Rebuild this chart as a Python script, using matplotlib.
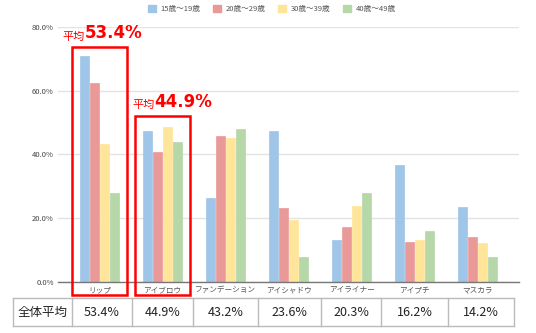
import matplotlib
matplotlib.use("Agg")
import matplotlib.pyplot as plt
from matplotlib.patches import Rectangle, Patch
from matplotlib.lines import Line2D
import numpy as np

plt.rcParams['font.family'] = ['Noto Sans CJK JP', 'DejaVu Sans']

categories = ["リップ", "アイブロウ", "ファンデーション", "アイシャドウ", "アイライナー", "アイプチ", "マスカラ"]
series_names = ["15歳～19歳", "20歳～29歳", "30歳～39歳", "40歳～49歳"]
age15_19 = [70.8, 47.2, 26.2, 47.2, 13.1, 36.7, 23.6]
age20_29 = [62.4, 40.8, 45.8, 23.3, 17.3, 12.4, 14.0]
age30_39 = [43.3, 48.6, 45.1, 19.3, 23.9, 13.2, 12.2]
age40_49 = [28.0, 43.9, 47.8, 7.9, 28.0, 16.0, 7.9]
overall_avg = [53.4, 44.9, 43.2, 23.6, 20.3, 16.2, 14.2]
yticks = [0, 20, 40, 60, 80]
colors = ["#9fc5e8", "#ea9999", "#ffe599", "#b6d7a8"]

W, H = 536, 333
fig = plt.figure(figsize=(W / 100, H / 100), dpi=100)
ax = fig.add_axes([58 / W, (H - 282) / H, (519 - 58) / W, (282 - 26.7) / H])

x = np.arange(len(categories))
step = 0.159
bw = 0.135
for i, (vals, c) in enumerate(zip([age15_19, age20_29, age30_39, age40_49], colors)):
    ax.bar(x + (i - 1.5) * step, vals, width=bw, color=c, edgecolor=c, linewidth=0.5, zorder=3)

ax.set_xlim(-0.66, 6.66)
ax.set_ylim(0, 80)
ax.set_yticks(yticks)
ax.set_yticklabels([f"{v:.1f}%" for v in yticks], fontsize=5.5, color="#444444")
ax.set_xticks(x)
ax.set_xticklabels(categories, fontsize=5.5, color="#555555")
ax.tick_params(axis='both', length=0, pad=3)
ax.grid(axis='y', color="#e3e3e3", linewidth=1, zorder=0)
for s in ["top", "right", "left"]:
    ax.spines[s].set_visible(False)
ax.spines["bottom"].set_color("#777777")
ax.spines["bottom"].set_linewidth(1)
ax.spines["bottom"].set_zorder(4)

# red highlight boxes
for cx, top in [(0, 73.7), (1, 52.0)]:
    r = Rectangle((cx - 0.44, -4.1), 0.88, top + 4.1, fill=False, edgecolor="#ff0000",
                  linewidth=1.8, clip_on=False, zorder=5)
    ax.add_patch(r)

for cx, xoff, yb, val in [(0, -0.59, 75.9, overall_avg[0]), (1, -0.48, 54.5, overall_avg[1])]:
    t1 = ax.text(cx + xoff, yb, "平均", color="#ff0000", fontsize=8, va="baseline", ha="left")
    ax.annotate(f"{val:.1f}%", xy=(1, 0), xycoords=t1, color="#ff0000", fontsize=12,
                fontweight="bold", va="bottom", ha="left", xytext=(0, -0.5), textcoords="offset points",
                family=["DejaVu Sans"])

# legend
handles = [Patch(facecolor=c, edgecolor=c) for c in colors]
fig.legend(handles, series_names, loc="center", bbox_to_anchor=(272 / W, 1 - 9 / H), ncol=4,
           frameon=False, fontsize=5.5, handlelength=1.0, handleheight=1.0, columnspacing=1.7,
           handletextpad=0.6, labelcolor="#555555")

# table
edges = [13, 72, 132, 193, 258, 321, 381, 448, 514]
ytop, ybot = 298, 326
lc = "#bbbbbb"
fy = lambda p: (H - p) / H
fx = lambda p: p / W
for y in (ytop, ybot):
    fig.add_artist(Line2D([fx(edges[0]), fx(edges[-1])], [fy(y), fy(y)], color=lc, lw=1))
for e in edges:
    fig.add_artist(Line2D([fx(e), fx(e)], [fy(ytop), fy(ybot)], color=lc, lw=1))
labels = ["全体平均"] + [f"{v:.1f}%" for v in overall_avg]
for i, lab in enumerate(labels):
    fig.text(fx((edges[i] + edges[i + 1]) / 2), fy((ytop + ybot) / 2), lab, ha="center", va="center",
             fontsize=9, color="#222222")

fig.savefig("out.png", dpi=100)
